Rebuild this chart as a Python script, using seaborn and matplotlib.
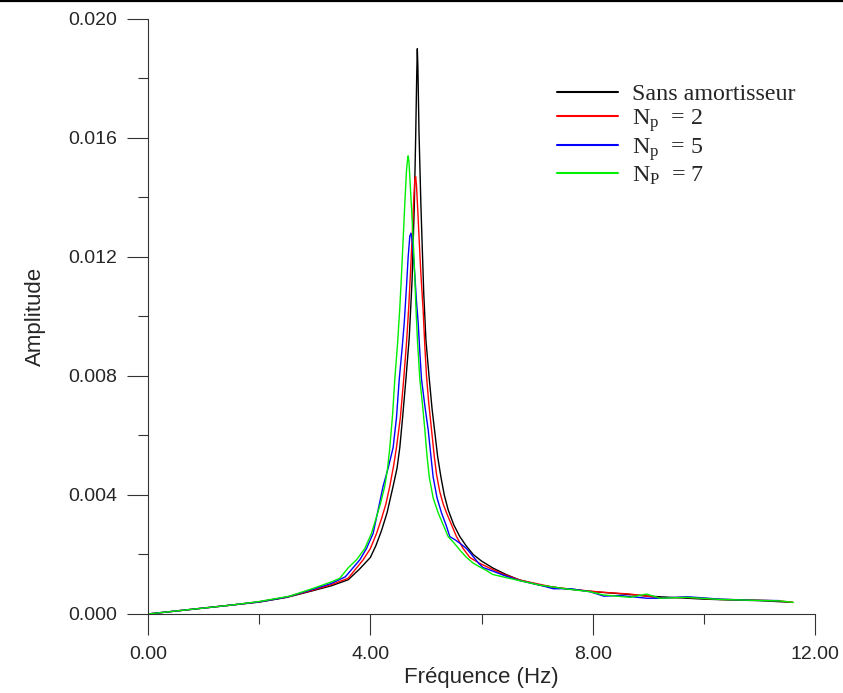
import matplotlib
matplotlib.use('Agg')
import matplotlib.pyplot as plt
from matplotlib.lines import Line2D
from matplotlib.ticker import MultipleLocator, FormatStrFormatter
import seaborn as sns
import pandas as pd

# Valeurs : fréquence (Hz) et amplitude
freq_sans = [0.0, 0.5, 1.0, 1.5, 2.0, 2.5, 3.0, 3.3, 3.6, 3.8, 4.0, 4.1, 4.2, 4.3, 4.41, 4.48,
             4.53, 4.58, 4.64, 4.70, 4.75, 4.79, 4.815, 4.835, 4.845, 4.855, 4.875, 4.91, 4.96,
             5.00, 5.06, 5.11, 5.16, 5.21, 5.27, 5.33, 5.40, 5.50, 5.61, 5.72, 5.85, 6.0, 6.21,
             6.45, 6.69, 7.05, 7.5, 7.95, 8.5, 9.0, 9.5, 10.0, 10.5, 11.0, 11.6]
amp_sans = [0.0, 0.0001, 0.0002, 0.0003, 0.0004, 0.00056, 0.0008, 0.00095, 0.00115, 0.0015,
            0.0019, 0.0023, 0.0028, 0.0034, 0.0043, 0.0049, 0.0056, 0.0066, 0.0079, 0.0093,
            0.0112, 0.0137, 0.0160, 0.0182, 0.0190, 0.0184, 0.0162, 0.0137, 0.0108, 0.0092,
            0.0079, 0.0069, 0.0061, 0.0053, 0.0046, 0.0040, 0.0035, 0.0030, 0.0026, 0.0023,
            0.0020, 0.00178, 0.00154, 0.00132, 0.00114, 0.00097, 0.00085, 0.00076, 0.00068,
            0.0006, 0.00055, 0.0005, 0.00047, 0.00045, 0.00039]

freq_np2 = [0.0, 0.5, 1.0, 1.5, 2.0, 2.5, 3.0, 3.3, 3.6, 3.87, 4.0, 4.11, 4.2, 4.28, 4.35, 4.42,
            4.47, 4.54, 4.60, 4.65, 4.69, 4.72, 4.75, 4.78, 4.80, 4.815, 4.83, 4.855, 4.88, 4.91,
            4.95, 4.98, 5.01, 5.05, 5.10, 5.15, 5.19, 5.25, 5.31, 5.37, 5.46, 5.55, 5.67, 5.79,
            5.95, 6.15, 6.4, 6.69, 7.29, 7.89, 8.19, 8.67, 8.97, 9.21, 9.69, 10.29, 10.89,
            11.37, 11.6]
amp_np2 = [0.0, 0.0001, 0.0002, 0.0003, 0.00041, 0.00057, 0.00082, 0.00099, 0.0012, 0.00182,
           0.0022, 0.0027, 0.0032, 0.0037, 0.0043, 0.0050, 0.0056, 0.0066, 0.0079, 0.0091,
           0.0103, 0.0114, 0.0126, 0.0139, 0.0146, 0.0147, 0.0144, 0.0135, 0.0125, 0.0114,
           0.0102, 0.0090, 0.0080, 0.0071, 0.0062, 0.0053, 0.0047, 0.0041, 0.0037, 0.0034,
           0.0030, 0.0026, 0.0022, 0.0019, 0.00172, 0.00154, 0.00133, 0.00114, 0.0009, 0.00078,
           0.00073, 0.00067, 0.0006, 0.00054, 0.00056, 0.00049, 0.00047, 0.00044, 0.00039]

freq_np5 = [0.0, 0.5, 1.0, 1.5, 2.0, 2.5, 3.0, 3.3, 3.55, 3.81, 3.93, 4.05, 4.14, 4.23, 4.32,
            4.41, 4.47, 4.52, 4.57, 4.61, 4.65, 4.68, 4.71, 4.73, 4.75, 4.78, 4.80, 4.83, 4.86,
            4.89, 4.92, 4.98, 5.04, 5.09, 5.13, 5.20, 5.28, 5.36, 5.43, 5.52, 5.61, 5.73, 5.85,
            5.95, 6.03, 6.15, 6.4, 6.69, 7.05, 7.29, 7.6, 7.95, 8.2, 8.5, 8.97, 9.21, 9.7,
            10.29, 10.89, 11.36]
amp_np5 = [0.0, 0.0001, 0.0002, 0.0003, 0.00041, 0.00057, 0.00085, 0.00103, 0.00125, 0.00182,
           0.0022, 0.00271, 0.0035, 0.0043, 0.0049, 0.0056, 0.0066, 0.0079, 0.0089, 0.0098,
           0.0110, 0.0120, 0.0127, 0.0128, 0.0126, 0.0119, 0.0114, 0.0105, 0.0098, 0.0088,
           0.0079, 0.0070, 0.0062, 0.0053, 0.0046, 0.0039, 0.0034, 0.0030, 0.0026, 0.0025,
           0.00238, 0.0022, 0.00193, 0.0017, 0.00156, 0.00148, 0.0013, 0.00112, 0.00097,
           0.00085, 0.00085, 0.00075, 0.0006, 0.00062, 0.00053, 0.00053, 0.00058, 0.0005,
           0.00046, 0.00045]

freq_np7 = [0.0, 0.5, 1.0, 1.5, 2.0, 2.55, 3.0, 3.3, 3.45, 3.6, 3.75, 3.9, 4.02, 4.1, 4.18,
            4.26, 4.31, 4.35, 4.40, 4.44, 4.49, 4.53, 4.56, 4.59, 4.62, 4.65, 4.67, 4.68, 4.695,
            4.715, 4.745, 4.77, 4.80, 4.82, 4.85, 4.89, 4.94, 4.98, 5.02, 5.06, 5.13, 5.22,
            5.31, 5.40, 5.50, 5.61, 5.73, 5.85, 5.97, 6.09, 6.2, 6.45, 6.69, 7.05, 7.5, 7.95,
            8.19, 8.67, 8.97, 9.21, 9.69, 10.29, 10.89, 11.37, 11.61]
amp_np7 = [0.0, 0.0001, 0.0002, 0.0003, 0.00042, 0.0006, 0.00088, 0.00108, 0.0012, 0.00155,
           0.00182, 0.0022, 0.00271, 0.0032, 0.0037, 0.0043, 0.0049, 0.0056, 0.0067, 0.0079,
           0.0091, 0.0103, 0.0114, 0.0126, 0.0138, 0.0149, 0.0153, 0.0154, 0.0152, 0.0145,
           0.0135, 0.0126, 0.0113, 0.0103, 0.0091, 0.0079, 0.0070, 0.0062, 0.0053, 0.0046,
           0.0039, 0.0034, 0.0030, 0.0026, 0.0024, 0.00215, 0.0019, 0.00171, 0.00158, 0.00146,
           0.00133, 0.00122, 0.00112, 0.00097, 0.00085, 0.00075, 0.00064, 0.00056, 0.00067,
           0.00053, 0.00056, 0.00049, 0.00046, 0.00044, 0.00039]

labels = ['Sans amortisseur', r'N$_\mathrm{p}$  = 2', r'N$_\mathrm{p}$  = 5', r'N$_\mathrm{P}$  = 7']
couleurs = ['#000000', '#ff0000', '#0000ff', '#00ee00']

df = pd.concat([
    pd.DataFrame({'freq': f, 'amp': a, 'cas': lab})
    for f, a, lab in zip([freq_sans, freq_np2, freq_np5, freq_np7],
                         [amp_sans, amp_np2, amp_np5, amp_np7], labels)
])

sns.set_style('ticks')
plt.rcParams['font.family'] = ['Liberation Sans', 'DejaVu Sans']
plt.rcParams['mathtext.fontset'] = 'custom'
plt.rcParams['mathtext.rm'] = 'Liberation Serif'
plt.rcParams['mathtext.it'] = 'Liberation Serif:italic'

fig = plt.figure(figsize=(8.43, 6.93), dpi=100)
ax = fig.add_axes([0.1756, 0.114, 0.7912, 0.8586])

sns.lineplot(data=df, x='freq', y='amp', hue='cas', hue_order=labels,
             palette=couleurs, linewidth=1.0, sort=False, estimator=None, ax=ax)

ax.set_xlim(0, 12)
ax.set_ylim(0, 0.020)
ax.xaxis.set_major_locator(MultipleLocator(4))
ax.xaxis.set_minor_locator(MultipleLocator(2))
ax.yaxis.set_major_locator(MultipleLocator(0.004))
ax.yaxis.set_minor_locator(MultipleLocator(0.002))
ax.xaxis.set_major_formatter(FormatStrFormatter('%.2f'))
ax.yaxis.set_major_formatter(FormatStrFormatter('%.3f'))
ax.tick_params(which='major', direction='out', length=15, width=0.8, color='#333333',
               labelsize=14, pad=7)
ax.tick_params(axis='x', which='major', pad=8)
ax.tick_params(which='minor', direction='out', length=7.5, width=0.8, color='#333333')
sns.despine(ax=ax)
for s in ['left', 'bottom']:
    ax.spines[s].set_linewidth(0.8)
    ax.spines[s].set_color('#333333')

ax.set_xlabel('Fréquence (Hz)', fontsize=16, labelpad=3)
ax.set_ylabel('Amplitude', fontsize=16, labelpad=16)

leg = ax.legend(loc='upper left', bbox_to_anchor=(0.580, 0.928), frameon=False,
                handlelength=2.55, handletextpad=0.58, labelspacing=0.08,
                prop={'family': 'Liberation Serif', 'size': 17.3})
for line in leg.get_lines():
    line.set_linewidth(1.5)

fig.add_artist(Line2D([0, 1], [1 - 1 / 693, 1 - 1 / 693], color='black', linewidth=1.6,
                      transform=fig.transFigure))

fig.savefig('out.png', dpi=100)
